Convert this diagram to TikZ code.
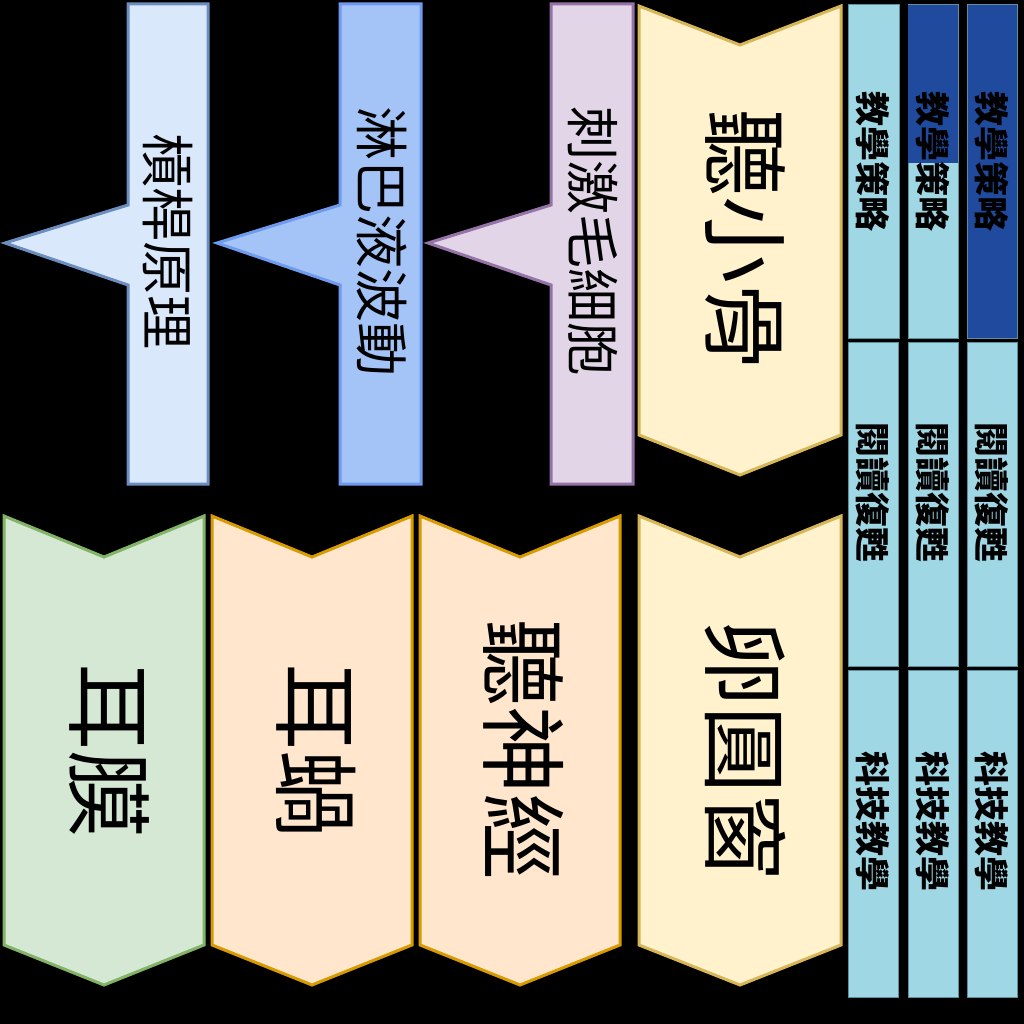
\documentclass[tikz,border=0pt]{standalone}
\usepackage{fontspec}
\newfontfamily\cjk{Noto Sans CJK TC}
\definecolor{grnF}{HTML}{D5E8D4}\definecolor{grnD}{HTML}{82B366}
\definecolor{orgF}{HTML}{FFE6CC}\definecolor{orgD}{HTML}{D79B00}
\definecolor{yelF}{HTML}{FFF2CC}\definecolor{yelD}{HTML}{D6B656}
\definecolor{bl1F}{HTML}{DAE8FC}\definecolor{bl1D}{HTML}{6C8EBF}
\definecolor{bl2F}{HTML}{A4C4F8}\definecolor{bl2D}{HTML}{6F9BEE}
\definecolor{purF}{HTML}{E1D5E7}\definecolor{purD}{HTML}{9673A6}
\definecolor{cellF}{HTML}{A0D7E4}\definecolor{cellD}{HTML}{5F8E9C}
\definecolor{darkB}{HTML}{1F4A9E}
\tikzset{
  shp/.style={line width=3pt, line join=miter},
  bigtxt/.style={rotate=-90, inner sep=0pt, font=\cjk\fontsize{87}{87}\selectfont},
  midtxt/.style={rotate=-90, inner sep=0pt, font=\cjk\fontsize{54}{54}\selectfont},
  smalltxt/.style={rotate=-90, inner sep=0pt, font=\cjk\bfseries\fontsize{35}{35}\selectfont},
  cell/.style={fill=cellF, draw=cellD, line width=1pt},
}
\begin{document}
\begin{tikzpicture}[x=1pt,y=-1pt]
\fill[black] (0,0) rectangle (1024,1024);
\useasboundingbox (0,0) rectangle (1024,1024);
% callouts
\draw[shp, fill=bl1F, draw=bl1D] (128,4) -- (208,4) -- (208,484) -- (128,484) -- (128,285) -- (5,243) -- (128,205) -- cycle;
\draw[shp, fill=bl2F, draw=bl2D] (340,4) -- (421,4) -- (421,484) -- (340,484) -- (340,285) -- (217,243) -- (340,205) -- cycle;
\draw[shp, fill=purF, draw=purD] (551,4) -- (633,4) -- (633,484) -- (551,484) -- (551,285) -- (428,243) -- (551,205) -- cycle;
% top chevron
\draw[shp, fill=yelF, draw=yelD] (639,6) -- (740,45) -- (841,6) -- (841,435) -- (740,475) -- (639,435) -- cycle;
% bottom chevrons
\draw[shp, fill=grnF, draw=grnD] (4,516) -- (104,557) -- (204,516) -- (204,945) -- (104,985) -- (4,945) -- cycle;
\draw[shp, fill=orgF, draw=orgD] (212,516) -- (312,557) -- (412,516) -- (412,945) -- (312,985) -- (212,945) -- cycle;
\draw[shp, fill=orgF, draw=orgD] (420,516) -- (520,557) -- (620,516) -- (620,945) -- (520,985) -- (420,945) -- cycle;
\draw[shp, fill=yelF, draw=yelD] (639,516) -- (740,557) -- (841,516) -- (841,945) -- (740,985) -- (639,945) -- cycle;
% texts
\node[midtxt] (lever) at (168,242) {槓桿原理};
\node[midtxt] (lymph) at (382,242) {淋巴液波動};
\node[midtxt] (hair) at (593,242) {刺激毛細胞};
\node[bigtxt] (ossicle) at (745,240) {聽小骨};
\node[bigtxt] (drum) at (109,750) {耳膜};
\node[bigtxt] (cochlea) at (316,750) {耳蝸};
\node[bigtxt] (nerve) at (524,750) {聽神經};
\node[bigtxt] (oval) at (745,750) {卵圓窗};
% right columns
\draw[cell] (848,5) rectangle (899,338);
\draw[cell] (908,5) rectangle (958,338);
\fill[darkB] (908,5) rectangle (958,163);
\draw[cell, fill=darkB] (967,5) rectangle (1017,338);
\foreach \x in {848,908,967}{
  \draw[cell] (\x,342) rectangle ++(50,324);
  \draw[cell] (\x,670) rectangle ++(50,327);
}
\node[smalltxt] (s1) at (873,162) {教學策略};
\node[smalltxt] (s2) at (933,162) {教學策略};
\node[smalltxt] (s3) at (992,162) {教學策略};
\node[smalltxt] (r1) at (873,492) {閱讀復甦};
\node[smalltxt] (r2) at (933,492) {閱讀復甦};
\node[smalltxt] (r3) at (992,492) {閱讀復甦};
\node[smalltxt] (k1) at (873,821) {科技教學};
\node[smalltxt] (k2) at (933,821) {科技教學};
\node[smalltxt] (k3) at (992,821) {科技教學};
\end{tikzpicture}
\end{document}
